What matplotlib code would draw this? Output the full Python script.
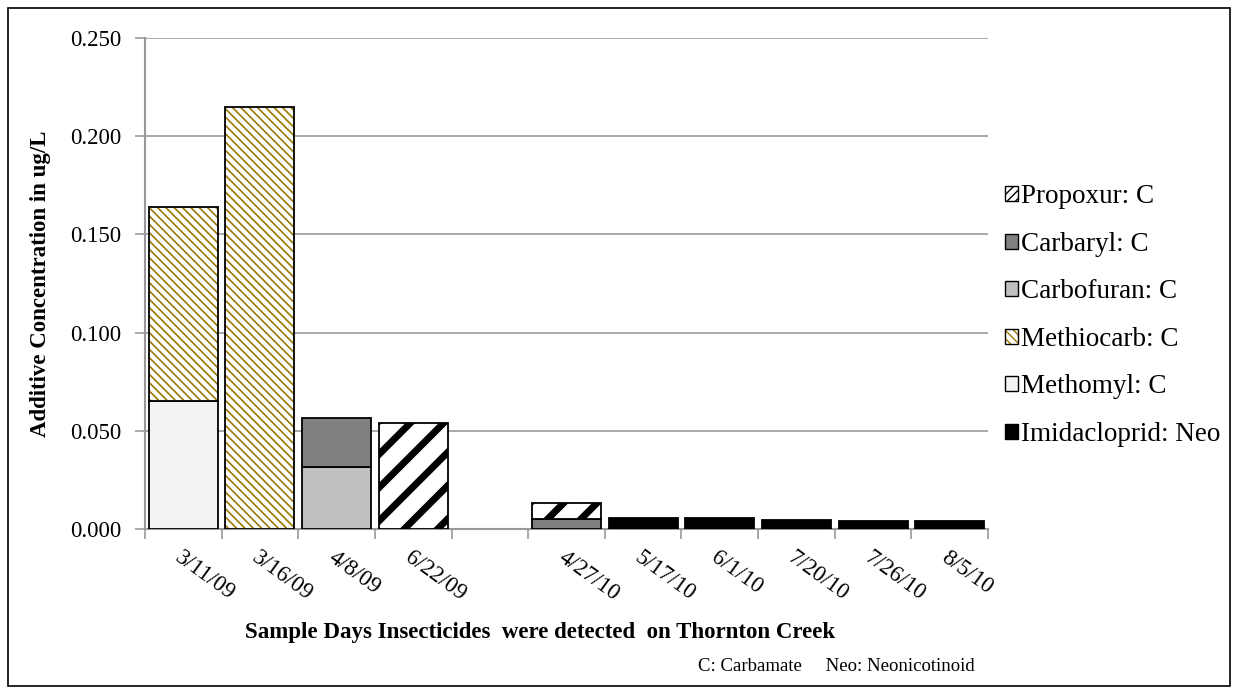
import matplotlib
matplotlib.use('Agg')
from matplotlib import pyplot as plt
from matplotlib.patches import Patch, Rectangle
from matplotlib.legend_handler import HandlerTuple
import numpy as np

plt.rcParams['font.family'] = ['Liberation Serif', 'DejaVu Serif']

days = ['3/11/09', '3/16/09', '4/8/09', '6/22/09', '',
        '4/27/10', '5/17/10', '6/1/10', '7/20/10', '7/26/10', '8/5/10']

# stacking order bottom -> top
imidacloprid = [0, 0, 0, 0, 0, 0, 0.0056, 0.0056, 0.0047, 0.0039, 0.0039]
methomyl     = [0.065, 0, 0, 0, 0, 0, 0, 0, 0, 0, 0]
methiocarb   = [0.099, 0.215, 0, 0, 0, 0, 0, 0, 0, 0, 0]
carbofuran   = [0, 0, 0.0316, 0, 0, 0, 0, 0, 0, 0, 0]
carbaryl     = [0, 0, 0.025, 0, 0, 0.005, 0, 0, 0, 0, 0]
propoxur     = [0, 0, 0, 0.054, 0, 0.008, 0, 0, 0, 0, 0]

series = [
    ('Imidacloprid: Neo', imidacloprid, dict(color='black')),
    ('Methomyl: C', methomyl, dict(color='#f2f2f2')),
    ('Methiocarb: C', methiocarb, dict(color='white', hatch='\\\\\\\\', hcolor='#9c7a00', hlw=1.2,
                                        lhatch='\\\\\\\\', llw=1.2)),
    ('Carbofuran: C', carbofuran, dict(color='#c0c0c0')),
    ('Carbaryl: C', carbaryl, dict(color='#808080')),
    ('Propoxur: C', propoxur, dict(color='white', hatch='/', hcolor='black', hlw=5.0,
                                   lhatch='////', llw=2.5)),
]

fig = plt.figure(figsize=(12.39, 6.94), dpi=100)
ax = fig.add_axes([0.117, 0.2378, 0.6804, 0.7074])

x = np.arange(len(days))
w = 0.9
bottom = np.zeros(len(days))
handles = []
for name, vals, st in series:
    vals = np.array(vals, dtype=float)
    mask = vals > 0
    if 'hatch' in st:
        b = ax.bar(x[mask], vals[mask], w, bottom=bottom[mask], color=st['color'],
                   edgecolor=st['hcolor'], hatch=st['hatch'], linewidth=0, zorder=3)
        for p in b:
            try:
                p.set_hatch_linewidth(st['hlw'])
            except AttributeError:
                pass
        ax.bar(x[mask], vals[mask], w, bottom=bottom[mask], fill=False,
               edgecolor='black', linewidth=1.3, zorder=4)
        hp = Patch(facecolor=st['color'], edgecolor=st['hcolor'], hatch=st['lhatch'], linewidth=0)
        try:
            hp.set_hatch_linewidth(st['llw'])
        except AttributeError:
            pass
        handles.append((hp, Patch(fill=False, edgecolor='black', linewidth=1.0)))
    else:
        ax.bar(x[mask], vals[mask], w, bottom=bottom[mask], color=st['color'],
               edgecolor='black', linewidth=1.3, zorder=3)
        handles.append(Patch(facecolor=st['color'], edgecolor='black', linewidth=1.0))
    bottom += vals

ax.set_xlim(-0.5, len(days) - 0.5)
ax.set_ylim(0, 0.25)
yt = np.arange(0, 0.2501, 0.05)
ax.set_yticks(yt)
ax.set_yticklabels(['%.3f' % v for v in yt], fontsize=16.5)
ax.yaxis.grid(True, color='#999999', linewidth=1.2, zorder=0)
ax.set_axisbelow(True)

ax.set_xticks(x)
ax.set_xticklabels(days, rotation=-36, ha='left', va='top', rotation_mode='anchor', fontsize=16.5)
ax.tick_params(axis='x', which='major', length=0, pad=13)
ax.set_xticks(np.arange(-0.5, len(days), 1.0), minor=True)
ax.tick_params(axis='x', which='minor', length=7, color='#999999', width=1.2)
ax.tick_params(axis='y', length=7, color='#999999', width=1.2, pad=10)

for s in ['top', 'right']:
    ax.spines[s].set_visible(False)
for s in ['left', 'bottom']:
    ax.spines[s].set_color('#999999')
    ax.spines[s].set_linewidth(1.5)

ax.set_ylabel('Additive Concentration in ug/L', fontsize=16.5, fontweight='bold', labelpad=14)
fig.text(0.436, 0.089, 'Sample Days Insecticides  were detected  on Thornton Creek',
         fontsize=16.5, fontweight='bold', ha='center', va='center')
fig.text(0.787, 0.040, 'C: Carbamate     Neo: Neonicotinoid', fontsize=13.5, ha='right', va='center')

leg = fig.legend(handles[::-1], [s[0] for s in series][::-1],
                 handler_map={tuple: HandlerTuple(ndivide=1)},
                 loc='upper left', bbox_to_anchor=(0.802, 0.750), frameon=False,
                 fontsize=19.5, labelspacing=0.83, handlelength=0.48, handleheight=0.48,
                 handletextpad=0.12, borderaxespad=0)

fig.patches.append(Rectangle((0.0065, 0.0115), 0.9865, 0.9765, transform=fig.transFigure,
                             fill=False, edgecolor='black', linewidth=1.2))

fig.savefig('out.png', dpi=100)
